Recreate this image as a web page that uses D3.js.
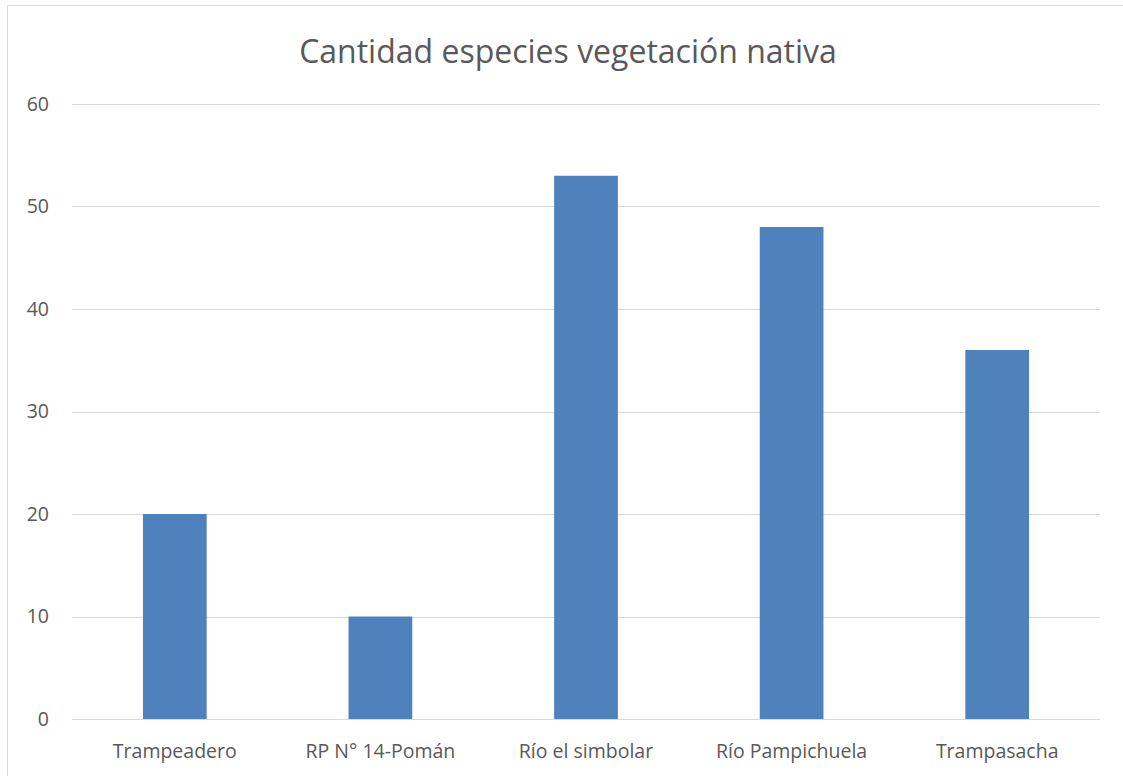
<!DOCTYPE html>
<html>
<head>
<meta charset="utf-8">
<script src="https://cdn.jsdelivr.net/npm/d3@7"></script>
<style>
  body { margin: 0; background: #fff; }
  text { font-family: "Open Sans", "Liberation Sans", sans-serif; fill: #595959; }
</style>
</head>
<body>
<svg id="chart"></svg>
<script>
// Chart data
const categories = ["Trampeadero", "RP N° 14-Pomán", "Río el simbolar", "Río Pampichuela", "Trampasacha"];
const values = [20, 10, 53, 48, 36];
const yTicks = [0, 10, 20, 30, 40, 50, 60];
const title = "Cantidad especies vegetación nativa";

const width = 1123;
const height = 776;

// Plot area
const margin = { top: 104, right: 23, bottom: 57, left: 72 };
const plotW = width - margin.left - margin.right;
const plotH = height - margin.top - margin.bottom;

const svg = d3.select("#chart")
    .attr("width", width)
    .attr("height", height);

// Outer chart border
svg.append("rect")
    .attr("x", 7.5)
    .attr("y", 5.5)
    .attr("width", width + 10)
    .attr("height", height + 10)
    .style("fill", "none")
    .style("stroke", "#d9d9d9")
    .style("stroke-width", 1);

const g = svg.append("g")
    .attr("transform", `translate(${margin.left}, ${margin.top})`);

const x = d3.scaleBand()
    .domain(categories)
    .range([0, plotW])
    .paddingInner(0.69)
    .paddingOuter(0.345);

const y = d3.scaleLinear()
    .domain([0, 60])
    .range([plotH, 0]);

// Gridlines
g.selectAll(".grid")
    .data(yTicks)
    .enter()
    .append("line")
    .attr("x1", 0)
    .attr("x2", plotW)
    .attr("y1", d => Math.round(y(d)) + 0.5)
    .attr("y2", d => Math.round(y(d)) + 0.5)
    .style("stroke", "#d9d9d9")
    .style("stroke-width", 1);

// Y labels
g.selectAll(".y-label")
    .data(yTicks)
    .enter()
    .append("text")
    .attr("x", -23)
    .attr("y", d => y(d))
    .attr("dy", "0.35em")
    .attr("text-anchor", "end")
    .style("font-size", "19.5px")
    .text(d => d);

// Bars
g.selectAll(".bar")
    .data(values)
    .enter()
    .append("rect")
    .attr("x", (d, i) => x(categories[i]))
    .attr("y", d => y(d))
    .attr("width", x.bandwidth())
    .attr("height", d => plotH - y(d))
    .style("fill", "#4f81bd");

// X labels
g.selectAll(".x-label")
    .data(categories)
    .enter()
    .append("text")
    .attr("x", d => x(d) + x.bandwidth() / 2)
    .attr("y", plotH + 39)
    .attr("text-anchor", "middle")
    .style("font-size", "19.5px")
    .text(d => d);

// Title (slightly left of plot centre, as in the original)
svg.append("text")
    .attr("x", 568)
    .attr("y", 63)
    .attr("text-anchor", "middle")
    .style("font-size", "32px")
    .text(title);
</script>
</body>
</html>
